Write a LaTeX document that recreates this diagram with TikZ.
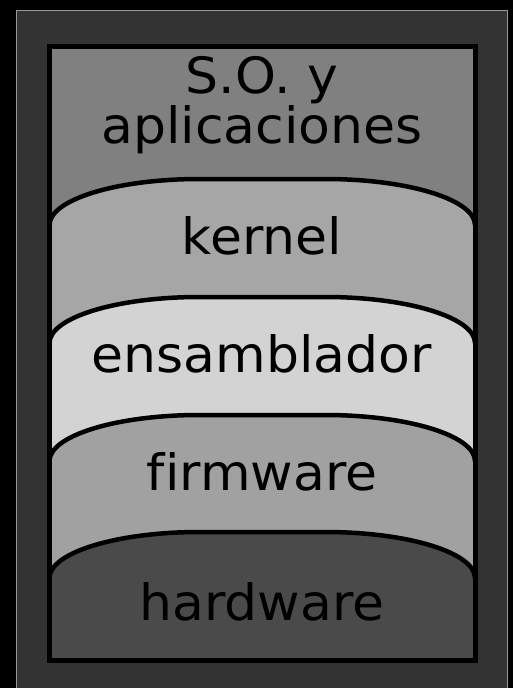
\documentclass[tikz,border=0pt]{standalone}
\usepackage{fontspec}
\setmainfont{DejaVu Sans}[Ligatures=NoCommon, FakeStretch=1.04]
\definecolor{panel}{HTML}{333333}
\definecolor{filo}{HTML}{999999}
\definecolor{capaso}{HTML}{808080}
\definecolor{capakernel}{HTML}{A6A6A6}
\definecolor{capaens}{HTML}{D3D3D3}
\definecolor{capafirm}{HTML}{A1A1A1}
\definecolor{capahard}{HTML}{4A4A4A}
\begin{document}
\begin{tikzpicture}[x=1pt, y=-1pt, borde/.style={draw=black, line width=4.5pt}, etiqueta/.style={font=\fontsize{50}{46}\selectfont, text=black, anchor=base, align=center}]
\useasboundingbox (0,0) rectangle (513,688);
\fill[black] (0,0) rectangle (513,688);
\filldraw[fill=panel, draw=filo, line width=1pt] (16.5,10.5) rectangle (507,700);
\fill[capaso] (49.5,46) rectangle (475,660.5);

% capas, de arriba abajo
\foreach \y/\c in {179/capakernel, 297/capaens, 415/capafirm, 532/capahard}{
  \fill[\c] (49.5,660.5) -- (49.5,\y+46) .. controls +(0,-25.4) and +(-82.8,0) .. (199.5,\y) -- (325,\y) .. controls +(82.8,0) and +(0,-25.4) .. (475,\y+46) -- (475,660.5) -- cycle;
  \draw[borde] (49.5,\y+46) .. controls +(0,-25.4) and +(-82.8,0) .. (199.5,\y) -- (325,\y) .. controls +(82.8,0) and +(0,-25.4) .. (475,\y+46);
}
\draw[borde, line width=5pt] (49.5,46) rectangle (475,660.5);

\node[etiqueta] (so) at (262,143) {S.O. y\\aplicaciones};
\node[etiqueta] (kernel) at (262,254) {kernel};
\node[etiqueta] (ens) at (262,372) {ensamblador};
\node[etiqueta] (firm) at (262,490) {firmware};
\node[etiqueta] (hard) at (262,620) {hardware};
\end{tikzpicture}
\end{document}
